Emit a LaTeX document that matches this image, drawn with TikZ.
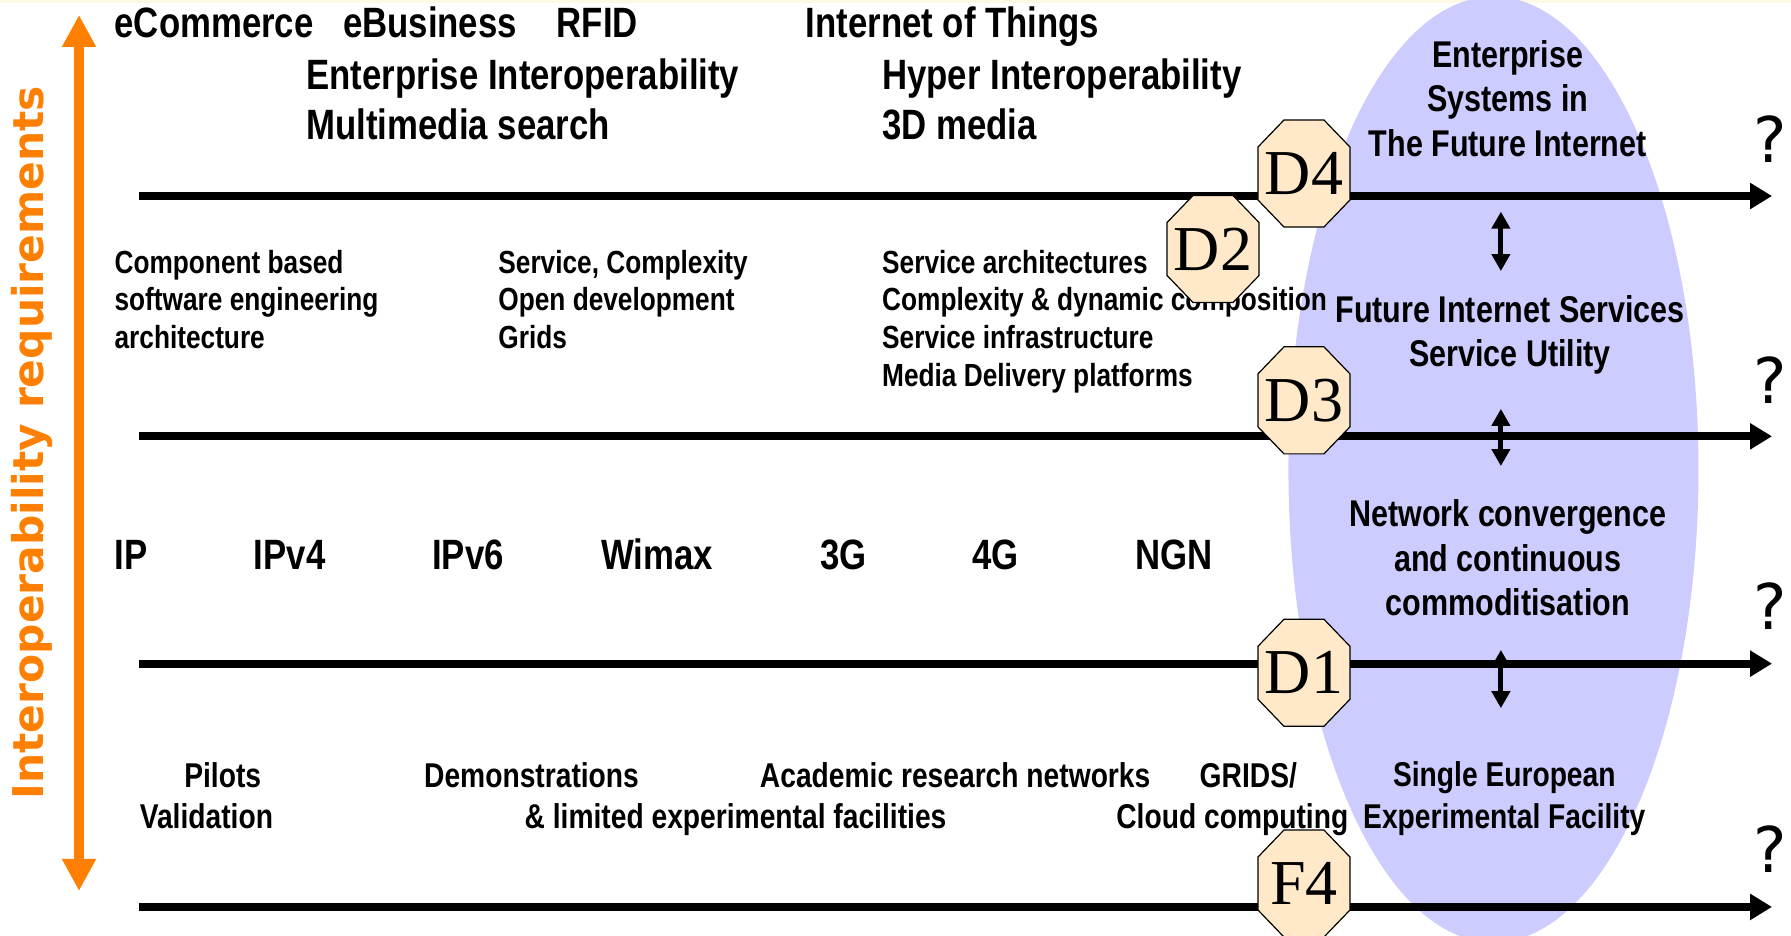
\documentclass[tikz,border=0pt]{standalone}
\usepackage{fontspec}
\setmainfont{Liberation Sans}[FakeStretch=0.82]
\newfontfamily\octfont{Liberation Serif}
\newfontfamily\reqfont{DejaVu Sans}
\usetikzlibrary{arrows.meta}

\definecolor{ovalblue}{RGB}{204,204,255}
\definecolor{stagefill}{RGB}{255,233,200}
\definecolor{reqorange}{RGB}{255,128,0}
\definecolor{topstrip}{RGB}{255,248,230}

\tikzset{
  bigtxt/.style={anchor=base west, inner sep=0pt, font=\bfseries\fontsize{21.2}{25.1}\selectfont},
  midtxt/.style={anchor=base west, inner sep=0pt, align=left, font=\bfseries\fontsize{16}{18.8}\selectfont},
  lowtxt/.style={anchor=base west, inner sep=0pt, font=\bfseries\fontsize{17.2}{20.6}\selectfont},
  ovaltxt/.style={anchor=base, inner sep=0pt, align=center, font=\bfseries\fontsize{18.6}{22.3}\selectfont},
  stageline/.style={draw=black, line width=0.6pt, fill=stagefill},
  stage/.style={inner sep=0pt, minimum width=46pt, minimum height=53.5pt, font=\octfont\fontsize{32}{32}\selectfont},
  timeline/.style={line width=4pt, -{Triangle[length=11pt,width=12.5pt]}},
  dblarrow/.style={line width=2.5pt, {Triangle[length=8.5pt,width=9pt]}-{Triangle[length=8.5pt,width=9pt]}},
  reqarrow/.style={reqorange, line width=5pt, {Triangle[length=16pt,width=16pt]}-{Triangle[length=16pt,width=16pt]}},
  query/.style={inner sep=0pt, font=\reqfont\fontsize{31.5}{31.5}\selectfont}
}

% octagon with its label: name, centre, text
\newcommand\stagebox[3]{%
  \path[stageline, shift={(#2)}] (-17.5,-46.85) -- (17.5,-46.85) -- (40.25,-23.2) -- (40.25,23.2)
    -- (17.5,46.85) -- (-17.5,46.85) -- (-40.25,23.2) -- (-40.25,-23.2) -- cycle;
  \node[stage] (#1) at (#2) {#3};}

\begin{document}
\begin{tikzpicture}[x=0.571109pt,y=-0.571109pt]
	\useasboundingbox (0,0) rectangle (1568,819);
	\fill[topstrip] (0,0) rectangle (1568,3);

	% future internet oval
	\fill[ovalblue] (1307.5,411) ellipse [x radius=179.5, y radius=414];

	% the four levels
	\foreach \y in {171.6,382,581,794}
		\draw[timeline] (122,\y) -- (1551.4,\y);

	% requirements axis
	\draw[reqarrow] (69.2,13.1) -- (69.2,780);
	\node[rotate=90, inner sep=0pt, text=reqorange, font=\reqfont\bfseries\fontsize{21.2}{21.2}\selectfont] (req) at (28,387.5) {Interoperability requirements};

	% applications level
	\node[bigtxt] (ecom) at (100,33) {eCommerce};
	\node[bigtxt] (ebus) at (300,33) {eBusiness};
	\node[bigtxt] (rfid) at (487,33) {RFID};
	\node[bigtxt] (iot) at (705,33) {Internet of Things};
	\node[bigtxt] (entint) at (268,78) {Enterprise Interoperability};
	\node[bigtxt] (mmsearch) at (268,122) {Multimedia search};
	\node[bigtxt] (hyper) at (772,78) {Hyper Interoperability};
	\node[bigtxt] (media3d) at (772,122) {3D media};

	% services level (base = last line)
	\node[midtxt] (cbse) at (100,305) {Component based\\software engineering\\architecture};
	\node[midtxt] (svccplx) at (436,305) {Service, Complexity\\Open development\\Grids};
	\node[midtxt] (svcarch) at (772,338) {Service architectures\\Complexity \& dynamic composition\\Service infrastructure\\Media Delivery platforms};

	% network level
	\node[bigtxt] (ip) at (100,499) {IP};
	\node[bigtxt] (ipv4) at (222,499) {IPv4};
	\node[bigtxt] (ipv6) at (378,499) {IPv6};
	\node[bigtxt] (wimax) at (526,499) {Wimax};
	\node[bigtxt] (g3) at (718,499) {3G};
	\node[bigtxt] (g4) at (851,499) {4G};
	\node[bigtxt] (ngn) at (994,499) {NGN};

	% facilities level
	\node[lowtxt] (pilots) at (161,689) {Pilots};
	\node[lowtxt] (valid) at (122,725) {Validation};
	\node[lowtxt] (demo) at (371,689) {Demonstrations};
	\node[lowtxt] (limfac) at (459,725) {\& limited experimental facilities};
	\node[lowtxt] (acad) at (665,689) {Academic research networks};
	\node[lowtxt] (grids) at (1050,689) {GRIDS/};
	\node[lowtxt] (cloud) at (977,725) {Cloud computing};

	% inside the oval
	\node[ovaltxt] (esfi) at (1320,137) {Enterprise\\Systems in\\The Future Internet};
	\node[ovaltxt] (fis) at (1322,321) {Future Internet Services\\Service Utility};
	\node[ovaltxt] (netconv) at (1320,539) {Network convergence\\and continuous\\commoditisation};
	\node[ovaltxt, font=\bfseries\fontsize{17.2}{20.6}\selectfont] (sefx) at (1317,725) {Single European\\Experimental Facility};

	\draw[dblarrow] (1314,185.3) -- (1314,237.3);
	\draw[dblarrow] (1314,358) -- (1314,408);
	\draw[dblarrow] (1314,569) -- (1314,620);

	% deliverables
	\stagebox{d4}{1141.6,151.9}{D4}
	\stagebox{d2}{1062,218}{D2}
	\stagebox{d3}{1141.6,350.5}{D3}
	\stagebox{d1}{1141.6,589}{D1}
	\stagebox{f4}{1141.6,773.5}{F4}

	\node[query] (q4) at (1549.7,122) {?};
	\node[query] (q3) at (1549.7,333) {?};
	\node[query] (q2) at (1549.7,531) {?};
	\node[query] (q1) at (1549.7,743) {?};
\end{tikzpicture}
\end{document}
